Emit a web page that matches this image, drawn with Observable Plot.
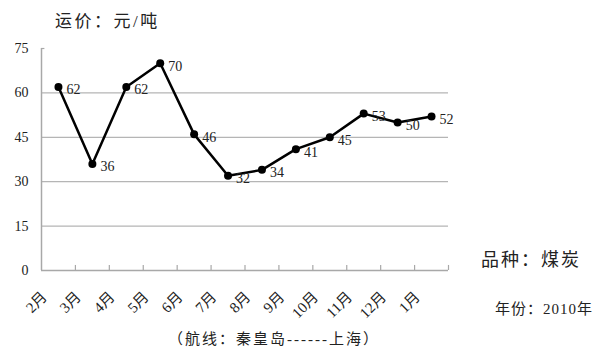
<!DOCTYPE html>
<html>
<head>
<meta charset="utf-8">
<script src="https://cdn.jsdelivr.net/npm/d3@7"></script>
<script src="https://cdn.jsdelivr.net/npm/@observablehq/plot@0.6"></script>
<style>
  html, body { margin: 0; padding: 0; background: #fff; }
  #wrap { position: relative; width: 601px; height: 353px; overflow: hidden;
          font-family: "Liberation Serif", "Noto Sans CJK SC", serif; color: #222; }
  .lbl { position: absolute; white-space: nowrap; line-height: 1; }
</style>
</head>
<body>
<div id="wrap">
  <div id="chart"></div>
  <div class="lbl" id="ytitle" style="left:55px; top:13px; font-size:17px; letter-spacing:2.5px;">运价：元/吨</div>
  <div class="lbl" id="kind" style="left:481px; top:251px; font-size:18px; letter-spacing:2px;">品种：煤炭</div>
  <div class="lbl" id="year" style="left:495px; top:302px; font-size:15px; letter-spacing:1px;">年份：2010年</div>
  <div class="lbl" id="route" style="left:168px; top:332px; font-size:15px; letter-spacing:2px;">（航线：秦皇岛------上海）</div>
</div>
<script>
const months = ["2月","3月","4月","5月","6月","7月","8月","9月","10月","11月","12月","1月"];
const prices = [62, 36, 62, 70, 46, 32, 34, 41, 45, 53, 50, 52];
const yTicks = [0, 15, 30, 45, 60, 75];

const data = months.map((m, i) => ({i, month: m, price: prices[i]}));
const boundaries = months.map((m, i) => i + 0.5);
const gridVals = yTicks.filter(v => v > 0 && v < 75);
const font = `"Liberation Serif", "Noto Sans CJK SC", serif`;

const chart = Plot.plot({
  width: 601,
  height: 353,
  marginLeft: 41,
  marginRight: 153,
  marginTop: 48,
  marginBottom: 83,
  style: {fontFamily: font, fontSize: "14px", color: "#222", background: "transparent"},
  x: {type: "linear", domain: [-0.5, months.length - 0.5], axis: null},
  y: {domain: [0, 75], ticks: yTicks, tickSize: 0, tickPadding: 13, label: null,
      tickFormat: d => String(d)},
  marks: [
    Plot.ruleY(gridVals, {x1: -0.5, x2: months.length - 0.5, stroke: "#b5b5b5", strokeWidth: 1.2}),
    Plot.ruleY([0], {x1: -0.5, x2: months.length - 0.5, stroke: "#a8a8a8", strokeWidth: 1.5}),
    Plot.ruleX([-0.5], {y1: 0, y2: 75, stroke: "#a8a8a8", strokeWidth: 1.5}),
    Plot.ruleY([75], {x1: -0.5, x2: -0.4, stroke: "#a8a8a8", strokeWidth: 1.2}),
    Plot.ruleX(boundaries, {y1: 0, y2: 1.7, stroke: "#a8a8a8", strokeWidth: 1.2}),
    Plot.line(data, {x: "i", y: "price", stroke: "#000", strokeWidth: 2.5}),
    Plot.dot(data, {x: "i", y: "price", r: 4, fill: "#000", stroke: "none"}),
    Plot.text(data, {x: "i", y: "price", text: d => String(d.price), textAnchor: "start",
                     dx: 8, dy: 3, fontSize: 14, fill: "#222"}),
    Plot.text(data, {x: "i", y: 0, text: "month", rotate: -45, textAnchor: "end",
                     dx: -14, dy: 24, fontSize: 15, fill: "#222"})
  ]
});
document.getElementById("chart").appendChild(chart);
</script>
</body>
</html>
